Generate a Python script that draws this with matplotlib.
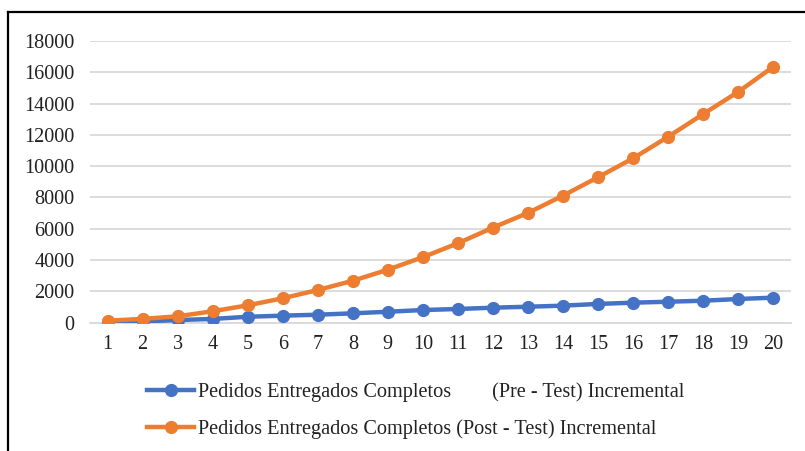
import matplotlib
matplotlib.use("Agg")
import matplotlib.pyplot as plt
from matplotlib.lines import Line2D

# Data
periods = list(range(1, 21))
pre_test = [50, 80, 170, 240, 380, 450, 510, 600, 700, 810,
            875, 960, 1020, 1090, 1200, 1280, 1340, 1405, 1515, 1600]
post_test = [130, 240, 410, 730, 1110, 1560, 2090, 2680, 3390, 4190,
             5080, 6080, 7020, 8125, 9300, 10510, 11890, 13340, 14760, 16360]
y_ticks = [0, 2000, 4000, 6000, 8000, 10000, 12000, 14000, 16000, 18000]
label_pre = "Pedidos Entregados Completos" + " " * 8 + "(Pre - Test) Incremental"
label_post = "Pedidos Entregados Completos (Post - Test) Incremental"

plt.rcParams['font.family'] = ['Liberation Serif', 'DejaVu Serif']

W, H = 805, 451
FS = 14.6
fig = plt.figure(figsize=(W / 100, H / 100), dpi=100)
ax = fig.add_axes([90 / W, 1 - 322.7 / H, (791 - 90) / W, (322.7 - 41) / H])

blue = "#4472C4"
orange = "#ED7D31"

ax.plot(periods, pre_test, color=blue, lw=3.2, marker='o', ms=8.5,
        solid_capstyle='round', label=label_pre, zorder=3)
ax.plot(periods, post_test, color=orange, lw=3.2, marker='o', ms=8.5,
        solid_capstyle='round', label=label_post, zorder=4)

ax.set_xlim(0.5, 20.5)
ax.set_ylim(0, 18000)
ax.set_yticks(y_ticks)
ax.set_yticklabels([str(v) for v in y_ticks])
ax.set_xticks(periods)
ax.set_xticklabels([str(p) for p in periods])
ax.grid(axis='y', color='#D9D9D9', lw=1.3)
ax.set_axisbelow(True)
for s in ['top', 'right', 'left']:
    ax.spines[s].set_visible(False)
ax.spines['bottom'].set_color('#D9D9D9')
ax.spines['bottom'].set_linewidth(1.3)
ax.tick_params(axis='both', length=0, labelsize=FS, colors='#222222')
ax.tick_params(axis='y', pad=11)
ax.tick_params(axis='x', pad=9)

handles = [Line2D([0], [0], color=blue, lw=3.2, marker='o', ms=8.5),
           Line2D([0], [0], color=orange, lw=3.2, marker='o', ms=8.5)]
fig.legend(handles, [label_pre, label_post], loc='upper left',
           bbox_to_anchor=(129 / W, 1 - 364 / H), frameon=False,
           fontsize=FS, handlelength=2.3, handletextpad=0.2,
           labelspacing=0.86, labelcolor='#222222')

# Frame along the left and top edges
fig.add_artist(Line2D([7.5 / W, 7.5 / W], [0, 1 - 12 / H], color='black',
                      lw=1.6, transform=fig.transFigure))
fig.add_artist(Line2D([7.5 / W, 1], [1 - 12 / H, 1 - 12 / H], color='black',
                      lw=1.6, transform=fig.transFigure))

fig.savefig("out.png", dpi=100, facecolor='white')
